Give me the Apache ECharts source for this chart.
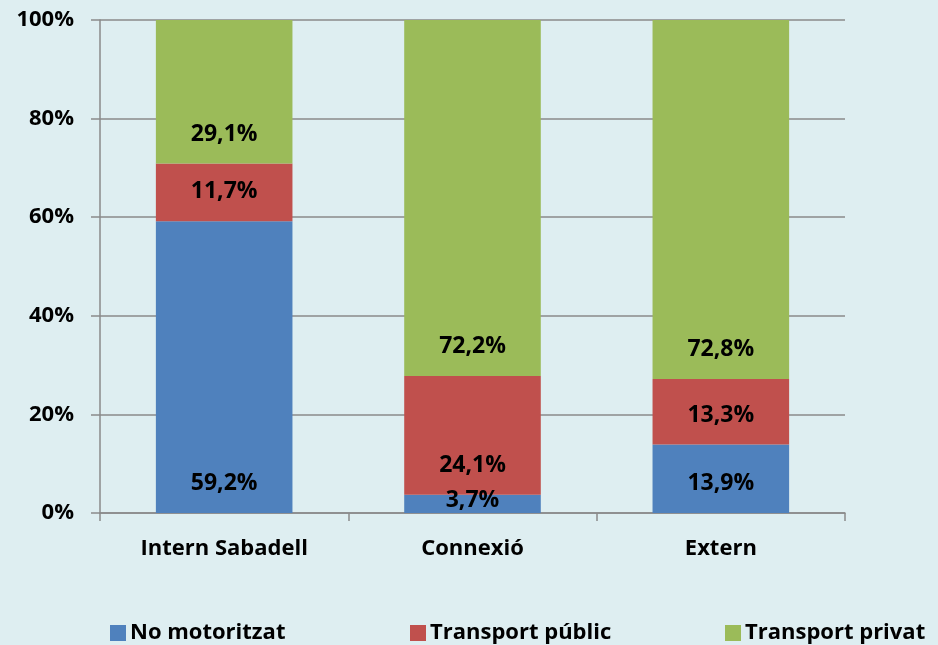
<!DOCTYPE html>
<html>
<head>
<meta charset="utf-8">
<script src="https://cdn.jsdelivr.net/npm/echarts@6/dist/echarts.min.js"></script>
<style>
  html, body { margin: 0; padding: 0; background: #deeef1; }
  #chart { width: 938px; height: 645px; }
</style>
</head>
<body>
<div id="chart"></div>
<script>
    // categories i series (percentatges)
    var categories = ['Intern Sabadell', 'Connexió', 'Extern'];
    var noMotoritzat = [59.2, 3.7, 13.9];
    var transportPublic = [11.7, 24.1, 13.3];
    var transportPrivat = [29.1, 72.2, 72.8];
    var seriesNames = ['No motoritzat', 'Transport públic', 'Transport privat'];
    var colors = ['#4f81bd', '#c0504d', '#9bbb59'];
    var legendLeft = [105, 405, 720];

    var font = '"Open Sans", "Noto Sans", sans-serif';

    function fmt(v) {
        return v.toFixed(1).replace('.', ',') + '%';
    }

    // etiquetes a la base del segment, centrades si el segment és petit
    function toData(arr) {
        return arr.map(function(v) {
            if (v < 5) {
                return { value: v, label: { position: 'inside', offset: [0, -3] } };
            }
            return v;
        });
    }

    function makeSeries(name, arr, color) {
        return {
            name: name,
            type: 'bar',
            stack: 'total',
            barWidth: '55%',
            itemStyle: { color: color },
            label: {
                show: true,
                position: 'insideBottom',
                distance: 18,
                color: '#000',
                fontFamily: font,
                fontWeight: 'bold',
                fontSize: 23,
                formatter: function(p) { return fmt(p.value); }
            },
            data: toData(arr)
        };
    }

    // una llegenda per element, per col·locar-les com a l'original
    var legends = seriesNames.map(function(n, i) {
        return {
            bottom: -4,
            left: legendLeft[i],
            itemWidth: 16,
            itemHeight: 16,
            icon: 'rect',
            textStyle: {
                color: '#000',
                fontFamily: font,
                fontWeight: 'bold',
                fontSize: 22,
                padding: [0, 0, 0, -1]
            },
            data: [n]
        };
    });

    var chart = echarts.init(document.getElementById('chart'));
    var option = {
        backgroundColor: '#deeef1',
        animation: false,
        grid: { left: 100, right: 93, top: 20, bottom: 132 },
        legend: legends,
        xAxis: {
            type: 'category',
            data: categories,
            axisLine: { lineStyle: { color: '#8a8a8a', width: 1.5 } },
            axisTick: { show: true, length: 8, lineStyle: { color: '#8a8a8a', width: 1.5 } },
            axisLabel: {
                color: '#000',
                fontFamily: font,
                fontWeight: 'bold',
                fontSize: 22,
                margin: 25
            }
        },
        yAxis: {
            type: 'value',
            min: 0,
            max: 100,
            interval: 20,
            axisLine: { show: true, lineStyle: { color: '#8a8a8a', width: 1.5 } },
            axisTick: { show: true, length: 9, lineStyle: { color: '#8a8a8a', width: 1.5 } },
            splitLine: { lineStyle: { color: '#8a8a8a', width: 1.5 } },
            axisLabel: {
                color: '#000',
                fontFamily: font,
                fontWeight: 'bold',
                fontSize: 22,
                margin: 26,
                formatter: '{value}%'
            }
        },
        series: [
            makeSeries(seriesNames[0], noMotoritzat, colors[0]),
            makeSeries(seriesNames[1], transportPublic, colors[1]),
            makeSeries(seriesNames[2], transportPrivat, colors[2])
        ]
    };
    chart.setOption(option);
</script>
</body>
</html>
